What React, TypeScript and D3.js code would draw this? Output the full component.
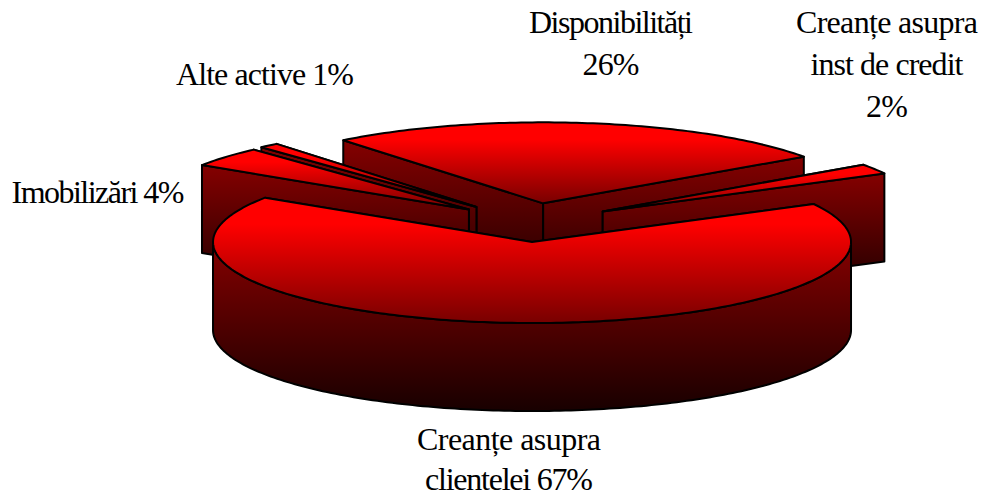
import React from "react";
import * as d3 from "d3";

const width = 982;
const height = 497;

// Share of total assets per category, in clockwise order from the first slice.
const categories = ["Disponibilități", "Creanțe asupra inst de credit", "Creanțe asupra clientelei", "Imobilizări", "Alte active"];
const shares = [26, 2, 67, 4, 1];
const explosion = [0.24, 0.24, 0.24, 0.27, 0.27];
const nudgeX = [-2, 3, 1, 0, -2];
const nudgeY = [0, -1, 0, 1, 1];
const drawOrder = [0, 4, 1, 3, 2];

const labelLines = [
  ["Disponibilități", "26%"],
  ["Creanțe asupra", "inst de credit", "2%"],
  ["Creanțe asupra", "clientelei 67%"],
  ["Imobilizări 4%"],
  ["Alte active 1%"],
];
// Rendered width of each label line, so the tight setting of the text carries over.
const labelWidths = [
  [164, 57],
  [182, 153, 42],
  [184, 168],
  [173],
  [178],
];
const labelCentres = [611, 887, 509, 98, 265];
const labelBaselines = [33, 33, 450, 203, 85];
const labelSteps = [42, 42, 40, 42, 42];

const startDegrees = -38.8;
const radiusX = 319;
const radiusY = 81;
const wallDepth = 88;

const centreX = 534.5;
const centreY = 222.6;

const sx = d3.scaleLinear().domain([-1, 1]).range([centreX - radiusX, centreX + radiusX]);
const sy = d3.scaleLinear().domain([-1, 1]).range([centreY + radiusY, centreY - radiusY]);

const slices = d3
  .pie<number>()
  .sort(null)
  .startAngle((startDegrees * Math.PI) / 180)
  .endAngle((startDegrees * Math.PI) / 180 + 2 * Math.PI)(shares);

type Pt = [number, number];

const outline = d3.line<Pt>().x((p) => p[0]).y((p) => p[1]);
const closed = (pts: Pt[]) => (outline(pts) ?? "") + "Z";

function apexOf(i: number): Pt {
  const s = slices[i];
  const mid = (s.startAngle + s.endAngle) / 2;
  return [sx(explosion[i] * Math.sin(mid)) + nudgeX[i], sy(explosion[i] * Math.cos(mid)) + nudgeY[i]];
}

function rimPoint(apex: Pt, angle: number, drop = 0): Pt {
  return [
    apex[0] + sx(Math.sin(angle)) - sx(0),
    apex[1] + sy(Math.cos(angle)) - sy(0) + drop,
  ];
}

function rimPoints(apex: Pt, a0: number, a1: number, drop = 0): Pt[] {
  const steps = Math.max(2, Math.ceil(Math.abs(a1 - a0) / (Math.PI / 180)));
  return d3.range(steps + 1).map((k) => rimPoint(apex, a0 + ((a1 - a0) * k) / steps, drop));
}

function Slice({ index }: { index: number }) {
  const s = slices[index];
  const apex = apexOf(index);
  const cutWall = (angle: number) => {
    const rim = rimPoint(apex, angle);
    return {
      key: angle,
      depth: rim[1],
      d: closed([apex, rim, [rim[0], rim[1] + wallDepth], [apex[0], apex[1] + wallDepth]]),
    };
  };
  const walls = [cutWall(s.startAngle), cutWall(s.endAngle)].sort((a, b) => a.depth - b.depth);

  // The curved outer wall only shows on the part of the rim facing the viewer.
  const frontFrom = Math.max(s.startAngle, Math.PI / 2);
  const frontTo = Math.min(s.endAngle, (3 * Math.PI) / 2);
  const rimWall =
    frontTo > frontFrom
      ? closed([...rimPoints(apex, frontFrom, frontTo), ...rimPoints(apex, frontTo, frontFrom, wallDepth)])
      : null;

  const top = closed([apex, ...rimPoints(apex, s.startAngle, s.endAngle)]);
  const edge = { stroke: "#000", strokeWidth: 2, strokeLinejoin: "round" as const };

  return (
    <g aria-label={categories[index]}>
      {walls.map((w) => (
        <path key={w.key} d={w.d} fill="url(#wallShade)" {...edge} />
      ))}
      {rimWall && <path d={rimWall} fill="url(#wallShade)" {...edge} />}
      <path d={top} fill="url(#topShade)" {...edge} />
    </g>
  );
}

export default function App() {
  return (
    <svg
      width={width}
      height={height}
      viewBox={`0 0 ${width} ${height}`}
      style={{ position: "absolute", left: 0, top: 0, background: "#fff" }}
    >
      <defs>
        <linearGradient id="topShade" x1="0" y1="0" x2="0" y2="1">
          <stop offset="0" stopColor="#ff0000" />
          <stop offset="0.21" stopColor="#ff0000" />
          <stop offset="1" stopColor="#780000" />
        </linearGradient>
        <linearGradient id="wallShade" x1="0" y1="0" x2="0" y2="1">
          <stop offset="0" stopColor="#850000" />
          <stop offset="1" stopColor="#180000" />
        </linearGradient>
      </defs>
      {drawOrder.map((i) => (
        <Slice key={i} index={i} />
      ))}
      <g fontFamily="'Liberation Serif', serif" fontSize={32} fill="#000" textAnchor="middle">
        {labelLines.map((lines, i) =>
          lines.map((line, j) => (
            <text
              key={`${i}-${j}`}
              x={labelCentres[i]}
              y={labelBaselines[i] + j * labelSteps[i]}
              textLength={labelWidths[i][j]}
              lengthAdjust="spacing"
            >
              {line}
            </text>
          ))
        )}
      </g>
    </svg>
  );
}
